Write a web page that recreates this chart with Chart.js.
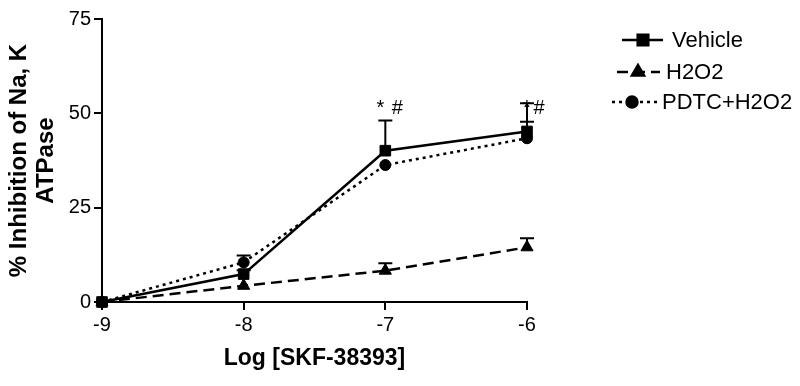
<!DOCTYPE html>
<html lang="en">
<head>
  <meta charset="UTF-8" />
  <title>Inhibition of Na, K ATPase</title>
  <script src="https://cdn.jsdelivr.net/npm/chart.js"></script>
  <style>
    body { margin: 0; background: #fff; }
    #wrap { width: 800px; height: 386px; }
  </style>
</head>
<body>
<div id="wrap"><canvas id="grafico"></canvas></div>
<script>
  const logDose = [-9, -8, -7, -6];
  const vehicle = [0, 7.4, 40.1, 45.2];
  const vehicleErr = [0, 1.0, 8.0, 7.5];
  const h2o2 = [0, 4.3, 8.3, 14.5];
  const h2o2Err = [0, 0, 2.0, 2.4];
  const pdtc = [0, 10.5, 36.3, 43.4];
  const pdtcErr = [0, 1.8, 0, 4.4];
  const yTicks = [0, 25, 50, 75];

  const font = '"Liberation Sans", Arial, sans-serif';

  const series = [
    { label: 'Vehicle', data: vehicle, err: vehicleErr, dash: [], style: 'rect', radius: 7.5 },
    { label: 'H2O2', data: h2o2, err: h2o2Err, dash: [11, 6], style: 'triangle', radius: 7 },
    { label: 'PDTC+H2O2', data: pdtc, err: pdtcErr, dash: [3, 4], style: 'circle', radius: 5.5 }
  ];

  // barras de error (solo hacia arriba), asteriscos y leyenda
  const extrasPlugin = {
    id: 'extras',
    afterDatasetsDraw(chart) {
      const ctx = chart.ctx;
      const xs = chart.scales.x, ys = chart.scales.y;
      ctx.save();
      ctx.strokeStyle = '#000';
      ctx.lineWidth = 2;
      series.forEach(s => {
        s.data.forEach((v, i) => {
          if (!s.err[i]) return;
          const px = xs.getPixelForValue(logDose[i]);
          const y0 = ys.getPixelForValue(v);
          const y1 = ys.getPixelForValue(v + s.err[i]);
          ctx.beginPath();
          ctx.moveTo(px, y0);
          ctx.lineTo(px, y1);
          ctx.moveTo(px - 7, y1);
          ctx.lineTo(px + 7, y1);
          ctx.stroke();
        });
      });

      ctx.fillStyle = '#000';
      ctx.font = '20px ' + font;
      ctx.textAlign = 'center';
      ctx.textBaseline = 'middle';
      const p7 = xs.getPixelForValue(-7), p6 = xs.getPixelForValue(-6);
      const yA = ys.getPixelForValue(51.3);
      ctx.fillText('*', p7 - 5, yA);
      ctx.fillText('#', p7 + 12, yA);
      ctx.fillText('*', p6, yA);
      ctx.fillText('#', p6 + 12, yA);

      // leyenda
      const rows = [
        { y: 40, x0: 622, x1: 663, m: 643, tx: 672 },
        { y: 72, x0: 617, x1: 660, m: 638, tx: 666 },
        { y: 102, x0: 612, x1: 658, m: 632, tx: 662 }
      ];
      ctx.font = '22px ' + font;
      ctx.textAlign = 'left';
      ctx.lineWidth = 2.5;
      series.forEach((s, k) => {
        const r = rows[k];
        ctx.setLineDash(s.dash);
        ctx.beginPath();
        ctx.moveTo(r.x0, r.y);
        ctx.lineTo(r.x1, r.y);
        ctx.stroke();
        ctx.setLineDash([]);
        Chart.helpers.drawPoint(ctx, { pointStyle: s.style, radius: s.radius, rotation: 0, borderWidth: 1 }, r.m, r.y);
        ctx.fill();
        ctx.fillText(s.label, r.tx, r.y + 1);
      });
      ctx.restore();
    }
  };

  new Chart(document.getElementById('grafico'), {
    type: 'line',
    data: {
      datasets: series.map(s => ({
        label: s.label,
        data: logDose.map((x, i) => ({ x: x, y: s.data[i] })),
        borderColor: '#000',
        backgroundColor: '#000',
        borderWidth: 2.5,
        borderDash: s.dash,
        pointStyle: s.style,
        pointRadius: s.radius,
        pointBorderWidth: 1,
        tension: 0,
        clip: false
      }))
    },
    options: {
      responsive: true,
      maintainAspectRatio: false,
      animation: false,
      layout: { padding: { left: 0, top: 19, right: 273, bottom: 10 } },
      plugins: { legend: { display: false }, tooltip: { enabled: false } },
      scales: {
        x: {
          type: 'linear',
          min: -9,
          max: -6,
          afterBuildTicks: scale => { scale.ticks = logDose.map(v => ({ value: v })); },
          afterFit: scale => { scale.height = 74; },
          grid: { display: true, drawOnChartArea: false, drawTicks: true, tickLength: 8, color: '#000', lineWidth: 2 },
          border: { display: true, color: '#000', width: 2 },
          ticks: { color: '#000', font: { family: font, size: 20 }, padding: 3 },
          title: {
            display: true,
            text: 'Log [SKF-38393]',
            color: '#000',
            font: { family: font, size: 23, weight: 'bold' },
            padding: { top: 8 }
          }
        },
        y: {
          min: 0,
          max: 75,
          afterBuildTicks: scale => { scale.ticks = yTicks.map(v => ({ value: v })); },
          afterFit: scale => { scale.width = 102; },
          grid: { display: true, drawOnChartArea: false, drawTicks: true, tickLength: 8, color: '#000', lineWidth: 2 },
          border: { display: true, color: '#000', width: 2 },
          ticks: { color: '#000', font: { family: font, size: 20 }, padding: 3 },
          title: {
            display: true,
            text: ['% Inhibition of Na, K', 'ATPase'],
            color: '#000',
            font: { family: font, size: 24, weight: 'bold', lineHeight: 1.125 },
            padding: { top: 6, bottom: 0 }
          }
        }
      }
    },
    plugins: [extrasPlugin]
  });
</script>
</body>
</html>
